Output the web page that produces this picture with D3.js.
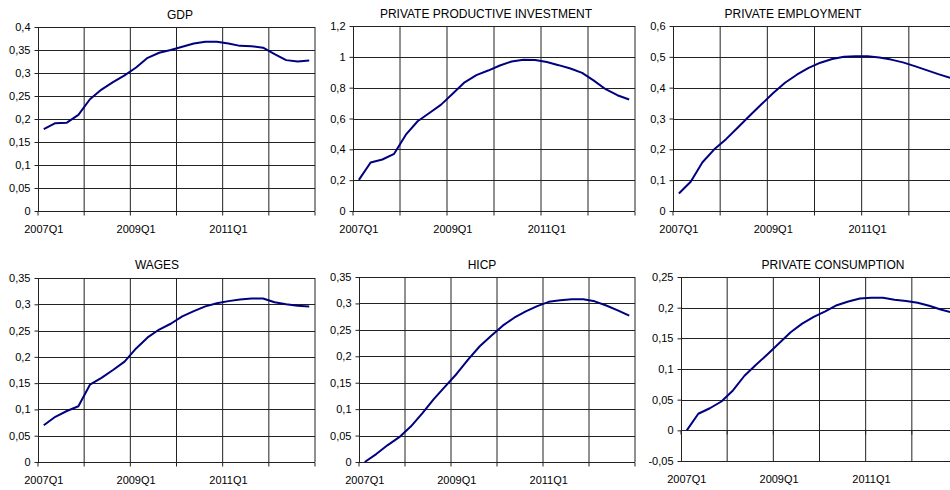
<!DOCTYPE html>
<html>
<head>
<meta charset="utf-8">
<script src="https://cdn.jsdelivr.net/npm/d3@7"></script>
<style>
  html, body { margin: 0; padding: 0; background: #fff; }
  svg { display: block; font-family: "Liberation Sans", Arial, sans-serif; }
  .grid line { stroke: #222; stroke-width: 1; }
  .axis path, .axis line { stroke: #222; }
  .axis text { font-size: 11px; fill: #000; }
  .title { font-size: 12px; fill: #000; text-anchor: middle; }
  .series { fill: none; stroke: #000080; stroke-width: 2; stroke-linejoin: round; }
</style>
</head>
<body>
<svg id="chart" width="950" height="490"></svg>
<script>
const quarters = [
  "2007Q1", "2007Q2", "2007Q3", "2007Q4", "2008Q1", "2008Q2", "2008Q3", "2008Q4",
  "2009Q1", "2009Q2", "2009Q3", "2009Q4", "2010Q1", "2010Q2", "2010Q3", "2010Q4",
  "2011Q1", "2011Q2", "2011Q3", "2011Q4", "2012Q1", "2012Q2", "2012Q3", "2012Q4"
];
const labelled = ["2007Q1", "2009Q1", "2011Q1"];

const titles = ["GDP", "PRIVATE PRODUCTIVE INVESTMENT", "PRIVATE EMPLOYMENT",
  "WAGES", "HICP", "PRIVATE CONSUMPTION"];

const gdp = [0.178, 0.191, 0.192, 0.209, 0.243, 0.264, 0.280, 0.295, 0.312, 0.333, 0.344, 0.350,
  0.357, 0.364, 0.368, 0.368, 0.364, 0.359, 0.358, 0.355, 0.341, 0.328, 0.325, 0.327];
const investment = [0.202, 0.315, 0.334, 0.371, 0.495, 0.582, 0.636, 0.690, 0.762, 0.835, 0.881, 0.911,
  0.944, 0.970, 0.981, 0.979, 0.966, 0.946, 0.924, 0.896, 0.846, 0.790, 0.751, 0.723];
const employment = [0.057, 0.095, 0.158, 0.200, 0.233, 0.271, 0.309, 0.346, 0.383, 0.416, 0.442, 0.464,
  0.481, 0.493, 0.500, 0.502, 0.502, 0.498, 0.491, 0.482, 0.470, 0.457, 0.444, 0.432];
const wages = [0.070, 0.086, 0.097, 0.106, 0.147, 0.160, 0.175, 0.191, 0.216, 0.237, 0.252, 0.263,
  0.277, 0.287, 0.296, 0.302, 0.306, 0.309, 0.311, 0.311, 0.304, 0.300, 0.297, 0.296];
const hicp = [0.000, 0.015, 0.032, 0.047, 0.067, 0.092, 0.119, 0.143, 0.167, 0.194, 0.219, 0.239,
  0.258, 0.273, 0.285, 0.295, 0.303, 0.306, 0.308, 0.308, 0.304, 0.296, 0.287, 0.277];
const consumption = [0.000, 0.027, 0.036, 0.047, 0.065, 0.089, 0.107, 0.124, 0.142, 0.160, 0.174, 0.185,
  0.194, 0.204, 0.210, 0.215, 0.216, 0.216, 0.213, 0.211, 0.208, 0.203, 0.197, 0.192];

// [min, max, step] of each value axis
const yAxes = [[0, 0.4, 0.05], [0, 1.2, 0.2], [0, 0.6, 0.1],
  [0, 0.35, 0.05], [0, 0.35, 0.05], [-0.05, 0.25, 0.05]];

const series = [gdp, investment, employment, wages, hicp, consumption];

// plot boxes: left, top, right, bottom, title centre
const boxes = [
  { x0: 38, y0: 27, x1: 315, y1: 211, tx: 180, ty: 19 },
  { x0: 353, y0: 26, x1: 635, y1: 211, tx: 486, ty: 18 },
  { x0: 673, y0: 26, x1: 956, y1: 211, tx: 793, ty: 18 },
  { x0: 38, y0: 278, x1: 315, y1: 462, tx: 157, ty: 269 },
  { x0: 359, y0: 277, x1: 635, y1: 462, tx: 482, ty: 269 },
  { x0: 681, y0: 277, x1: 958, y1: 461, tx: 833, ty: 269 }
];

const locale = d3.formatLocale({ decimal: ",", thousands: ".", grouping: [3], currency: ["", ""], minus: "-" });
const fmt = locale.format(".2~f");

const svg = d3.select("#chart");

series.forEach((values, k) => {
  const b = boxes[k];
  const [lo, hi, step] = yAxes[k];
  const ticks = d3.range(0, Math.round((hi - lo) / step) + 1).map(i => +(lo + i * step).toFixed(4));

  const x = d3.scaleBand().domain(quarters).range([b.x0, b.x1]);
  const y = d3.scaleLinear().domain([lo, hi]).range([b.y1, b.y0]);
  const g = svg.append("g");

  const grid = g.append("g").attr("class", "grid");
  grid.selectAll("line.h")
    .data(ticks)
    .join("line")
    .attr("class", "h")
    .attr("x1", b.x0).attr("x2", b.x1)
    .attr("y1", d => Math.round(y(d)) + 0.5)
    .attr("y2", d => Math.round(y(d)) + 0.5);

  const bounds = quarters.filter((q, i) => i % 4 === 0 && i > 0).map(q => x(q)).concat([b.x1]);
  grid.selectAll("line.v")
    .data(bounds)
    .join("line")
    .attr("class", "v")
    .attr("x1", d => d).attr("x2", d => d)
    .attr("y1", b.y0).attr("y2", b.y1);

  g.append("g")
    .attr("class", "axis")
    .attr("transform", `translate(${b.x0 + 0.5},0)`)
    .call(d3.axisLeft(y).tickValues(ticks).tickSize(4).tickSizeOuter(0).tickPadding(4).tickFormat(fmt))
    .call(s => s.select(".domain").attr("d", `M0,${b.y0}V${b.y1}`));

  const zeroY = Math.round(y(0)) + 0.5;
  const xTicks = quarters.filter((q, i) => i % 4 === 0).map(q => x(q)).concat([b.x1]);
  g.append("g")
    .attr("class", "axis")
    .selectAll("line")
    .data(xTicks)
    .join("line")
    .attr("x1", d => d).attr("x2", d => d)
    .attr("y1", zeroY).attr("y2", zeroY + 4);

  g.append("g")
    .attr("class", "axis")
    .selectAll("text")
    .data(labelled)
    .join("text")
    .attr("x", d => x(d) + x.bandwidth() / 2)
    .attr("y", b.y1 + 22)
    .attr("text-anchor", "middle")
    .text(d => d);

  const line = d3.line()
    .x((d, i) => x(quarters[i]) + x.bandwidth() / 2)
    .y(d => y(d));

  g.append("path")
    .attr("class", "series")
    .attr("d", line(values));

  g.append("text")
    .attr("class", "title")
    .attr("x", b.tx)
    .attr("y", b.ty)
    .text(titles[k]);
});
</script>
</body>
</html>
